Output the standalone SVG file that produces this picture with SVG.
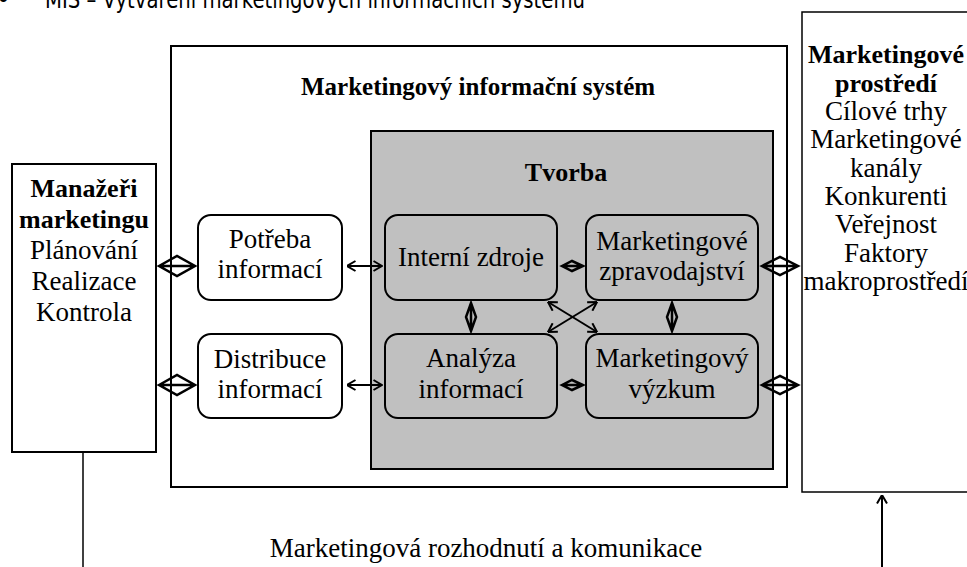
<svg xmlns="http://www.w3.org/2000/svg" width="967" height="567" viewBox="0 0 967 567">
<defs>
<style>
.t{font-family:"Liberation Serif","Times New Roman",serif;font-size:27px;fill:#000;text-anchor:middle}
.b{font-weight:bold;font-size:26px}
.box{fill:#fff;stroke:#000;stroke-width:2}
.rbox{fill:#fff;stroke:#000;stroke-width:2}
.gbox{fill:#c0c0c0;stroke:#000;stroke-width:2}
.ln{stroke:#000;stroke-width:2;fill:none}
.thin{stroke:#000;stroke-width:1.5;fill:none}
.dia{stroke:#000;stroke-width:2.5;fill:none;stroke-linejoin:miter}
.title{font-family:"DejaVu Sans","Verdana",sans-serif;font-size:25px;fill:#000}
</style>
<marker id="chev" viewBox="0 0 10 12" refX="9.5" refY="6" markerWidth="10" markerHeight="12" markerUnits="userSpaceOnUse" orient="auto-start-reverse">
<path d="M1,1 L9.5,6 L1,11" fill="none" stroke="#000" stroke-width="2"/>
</marker>
</defs>
<rect width="967" height="567" fill="#fff"/>

<g id="title">
<text class="title" x="-4" y="8">•</text>
<text class="title" x="45" y="8" textLength="540" lengthAdjust="spacingAndGlyphs">MIS – Vytváření marketingových informačních systémů</text>
</g>

<g id="mis">
<rect class="box" x="171" y="46" width="616" height="441"/>
<text class="t b" x="478" y="95" style="font-size:25px">Marketingový informační systém</text>
</g>

<g id="tvorba">
<rect class="gbox" x="371" y="131" width="402" height="338"/>
<text class="t b" x="566" y="181">Tvorba</text>
</g>

<g id="manazeri">
<rect class="box" x="12" y="164" width="144" height="288"/>
<text class="t b" x="84" y="197">Manažeři</text>
<text class="t b" x="84" y="228">marketingu</text>
<text class="t" x="84" y="259">Plánování</text>
<text class="t" x="84" y="290">Realizace</text>
<text class="t" x="84" y="321">Kontrola</text>
</g>

<g id="prostredi">
<rect class="thin" x="802" y="12" width="200" height="480" fill="#fff"/>
<text class="t b" x="886" y="63">Marketingové</text>
<text class="t b" x="886" y="92">prostředí</text>
<text class="t" x="886" y="120">Cílové trhy</text>
<text class="t" x="886" y="148">Marketingové</text>
<text class="t" x="886" y="177">kanály</text>
<text class="t" x="886" y="205">Konkurenti</text>
<text class="t" x="886" y="233">Veřejnost</text>
<text class="t" x="886" y="262">Faktory</text>
<text class="t" x="886" y="290">makroprostředí</text>
</g>

<g id="potreba">
<rect class="rbox" x="198" y="215" width="144" height="85" rx="13"/>
<text class="t" x="270" y="248">Potřeba</text>
<text class="t" x="270" y="278">informací</text>
</g>

<g id="distribuce">
<rect class="rbox" x="198" y="334" width="144" height="84" rx="13"/>
<text class="t" x="270" y="368">Distribuce</text>
<text class="t" x="270" y="398">informací</text>
</g>

<g id="interni">
<rect class="gbox" x="385" y="215" width="172" height="85" rx="13"/>
<text class="t" x="471" y="266">Interní zdroje</text>
</g>

<g id="zpravodajstvi">
<rect class="gbox" x="586" y="215" width="172" height="85" rx="13"/>
<text class="t" x="672" y="250">Marketingové</text>
<text class="t" x="672" y="280">zpravodajství</text>
</g>

<g id="analyza">
<rect class="gbox" x="385" y="334" width="172" height="84" rx="13"/>
<text class="t" x="471" y="367">Analýza</text>
<text class="t" x="471" y="398">informací</text>
</g>

<g id="vyzkum">
<rect class="gbox" x="586" y="334" width="172" height="84" rx="13"/>
<text class="t" x="672" y="367">Marketingový</text>
<text class="t" x="672" y="398">výzkum</text>
</g>

<g id="label">
<text class="t" x="486" y="557">Marketingová rozhodnutí a komunikace</text>
</g>

<g id="connectors">
<path class="dia" d="M159,266 L177,256 L195,266 L177,276 Z M159,266 H195"/>
<path class="dia" d="M159,385 L177,375 L195,385 L177,395 Z M159,385 H195"/>
<line class="ln" x1="347" y1="266" x2="382" y2="266" marker-start="url(#chev)" marker-end="url(#chev)"/>
<line class="ln" x1="347" y1="385" x2="382" y2="385" marker-start="url(#chev)" marker-end="url(#chev)"/>
<path class="dia" d="M562,266 L572,261 L583,266 L572,271 Z M562,266 H583"/>
<path class="dia" d="M562,385 L572,380 L583,385 L572,390 Z M562,385 H583"/>
<path class="dia" d="M471,303 L476,317 L471,331 L466,317 Z M471,303 V331"/>
<path class="dia" d="M672,303 L677,317 L672,331 L667,317 Z M672,303 V331"/>
<line class="ln" x1="548" y1="302" x2="597" y2="332" marker-start="url(#chev)" marker-end="url(#chev)"/>
<line class="ln" x1="597" y1="302" x2="548" y2="332" marker-start="url(#chev)" marker-end="url(#chev)"/>
<path class="dia" d="M762,266 L780,257 L798,266 L780,275 Z M762,266 H798"/>
<path class="dia" d="M762,385 L780,376 L798,385 L780,394 Z M762,385 H798"/>
<line class="thin" x1="83" y1="452" x2="83" y2="567"/>
<line class="ln" x1="882" y1="567" x2="882" y2="495" marker-end="url(#chev)"/>
</g>
</svg>
